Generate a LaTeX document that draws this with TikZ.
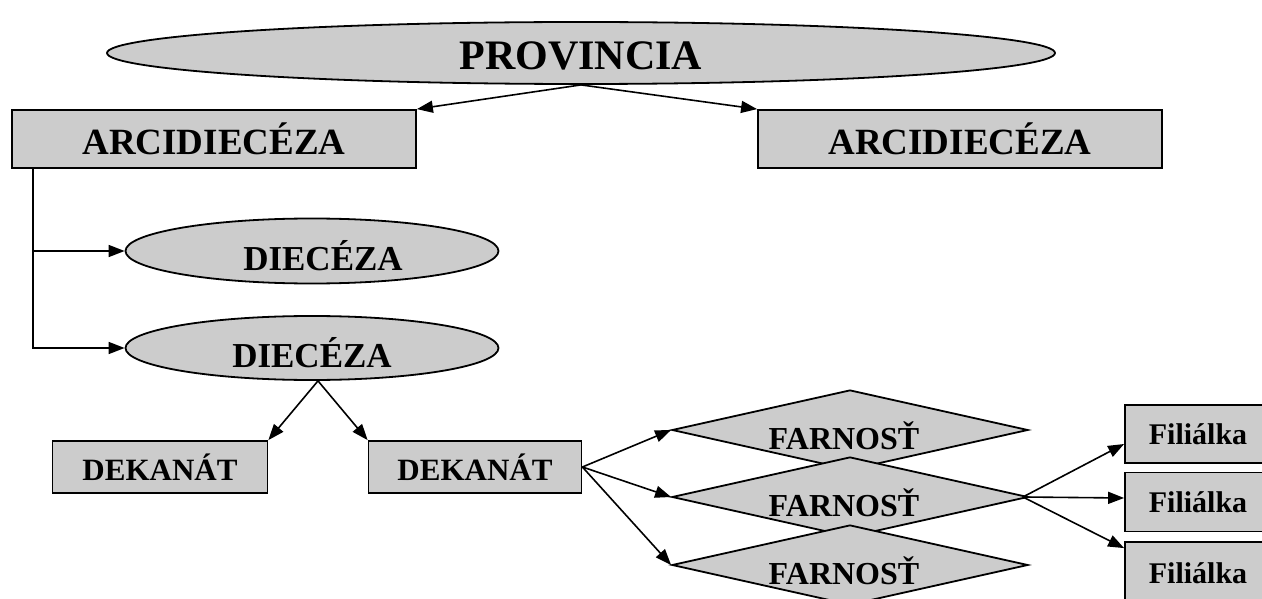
\documentclass[tikz,border=0pt]{standalone}
\usepackage{fontspec}
\setmainfont{Liberation Serif}
\usetikzlibrary{shapes.geometric,arrows.meta}
\definecolor{gfill}{HTML}{CCCCCC}
\tikzset{
  boxnode/.style={draw=black,line width=1.8pt,fill=gfill,rectangle,inner sep=0pt,font=\bfseries},
  ellnode/.style={draw=black,line width=1.8pt,fill=gfill,ellipse,inner sep=0pt},
  dianode/.style={draw=black,line width=1.8pt,fill=gfill,diamond,inner sep=0pt},
  lbl/.style={inner sep=0pt,font=\bfseries},
  arr/.style={line width=1.6pt,-{Triangle[length=16pt,width=12pt]}},
}
\begin{document}
\begin{tikzpicture}[x=1pt,y=-1pt]
\useasboundingbox (0,0) rectangle (1262,599);
\clip (0,0) rectangle (1262,599);
% top
\node[ellnode,minimum width=948pt,minimum height=62pt] (prov) at (581,53) {};
\node[lbl,font=\bfseries\fontsize{42}{48}\selectfont] (tprov) at (581,56) {PROVINCIA};
\node[boxnode,minimum width=404pt,minimum height=58pt,font=\bfseries\fontsize{37}{44}\selectfont] (arcL) at (214,139) {ARCIDIECÉZA};
\node[boxnode,minimum width=404pt,minimum height=58pt,font=\bfseries\fontsize{37}{44}\selectfont] (arcR) at (960,139) {ARCIDIECÉZA};
\draw[arr] (prov.south) -- (arcL.north east);
\draw[arr] (prov.south) -- (arcR.north west);
% dioceses
\node[ellnode,minimum width=373pt,minimum height=65pt] (dA) at (312,251) {};
\node[lbl,font=\bfseries\fontsize{35}{42}\selectfont] (tA) at (323,256) {DIECÉZA};
\node[ellnode,minimum width=373pt,minimum height=64pt] (dB) at (312,348) {};
\node[lbl,font=\bfseries\fontsize{35}{42}\selectfont] (tB) at (312,353) {DIECÉZA};
\draw[arr] ([xshift=22pt]arcL.south west) |- (dA.west);
\draw[arr] ([xshift=22pt]arcL.south west) |- (dB.west);
% deaneries
\node[boxnode,minimum width=215pt,minimum height=52pt,font=\bfseries\fontsize{31}{37}\selectfont] (dek1) at (160,467) {DEKANÁT};
\node[boxnode,minimum width=213pt,minimum height=52pt,font=\bfseries\fontsize{31}{37}\selectfont] (dek2) at (475,467) {DEKANÁT};
\coordinate (apex) at ([xshift=6pt]dB.south);
\draw[arr] (apex) -- (dek1.north east);
\draw[arr] (apex) -- (dek2.north west);
% parishes
\node[dianode,minimum width=356pt,minimum height=80pt] (f1) at (850,430) {};
\node[lbl,font=\bfseries\fontsize{32}{38}\selectfont] (tf1) at (844,436) {FARNOSŤ};
\node[dianode,minimum width=356pt,minimum height=80pt] (f2) at (850,497) {};
\node[lbl,font=\bfseries\fontsize{32}{38}\selectfont] (tf2) at (844,503) {FARNOSŤ};
\node[dianode,minimum width=356pt,minimum height=80pt] (f3) at (850,565) {};
\node[lbl,font=\bfseries\fontsize{32}{38}\selectfont] (tf3) at (844,571) {FARNOSŤ};
\draw[arr] (dek2.east) -- (f1.west);
\draw[arr] (dek2.east) -- (f2.west);
\draw[arr] (dek2.east) -- (f3.west);
% filials
\node[boxnode,minimum width=146pt,minimum height=58pt,font=\bfseries\fontsize{30}{36}\selectfont] (fi1) at (1198,434) {Filiálka};
\node[boxnode,minimum width=146pt,minimum height=59pt,font=\bfseries\fontsize{30}{36}\selectfont] (fi2) at (1198,502) {Filiálka};
\node[boxnode,minimum width=146pt,minimum height=62pt,font=\bfseries\fontsize{30}{36}\selectfont] (fi3) at (1198,573) {Filiálka};
\draw[arr] ([xshift=-6pt]f2.east) -- ([yshift=-10pt]fi1.west);
\draw[arr] ([xshift=-6pt]f2.east) -- ([yshift=4pt]fi2.west);
\draw[arr] ([xshift=-6pt]f2.east) -- ([yshift=-7pt]fi3.north west);
\end{tikzpicture}
\end{document}
